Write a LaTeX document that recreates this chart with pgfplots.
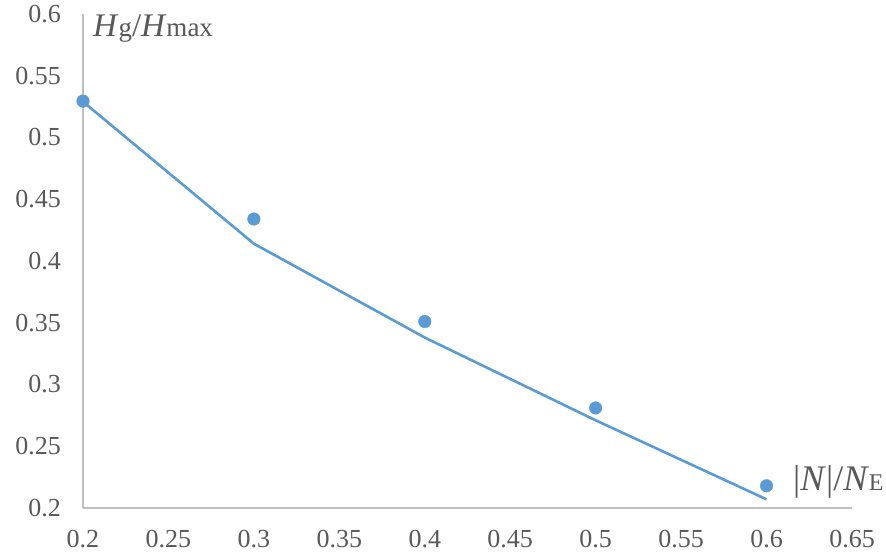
\documentclass[border=0pt]{standalone}
\usepackage{pgfplots}
\pgfplotsset{compat=1.18}
\usepackage{fontspec}
\setmainfont{Liberation Serif}
\definecolor{ticktext}{HTML}{595959}
\definecolor{axisgray}{HTML}{BFBFBF}
\definecolor{serblue}{HTML}{5B9BD5}
\begin{document}
\begin{tikzpicture}
\begin{axis}[
  scale only axis,
  width=769bp, height=494bp,
  xmin=0.2, xmax=0.65, ymin=0.2, ymax=0.6,
  axis lines=left,
  axis line style={draw=axisgray, line width=1.6bp, -},
  xtick={0.2,0.25,...,0.65},
  ytick={0.2,0.25,...,0.6},
  major tick length=0pt,
  /pgf/number format/assume math mode=true,
  /pgf/number format/.cd, fixed, precision=2, /pgfplots/.cd,
  ticklabel style={font=\fontsize{26bp}{30bp}\selectfont, text=ticktext, inner sep=0pt},
  xticklabel style={anchor=north, yshift=-22bp},
  yticklabel style={anchor=east, xshift=-22bp},
  clip=false,
]
\addplot[serblue, line width=2.6bp, no marks] coordinates {
  (0.2,0.529) (0.3,0.414) (0.4,0.338) (0.5,0.271) (0.6,0.207)
};
\addplot[only marks, mark=*, mark size=6.3bp, mark options={draw=serblue, fill=serblue}] coordinates {
  (0.2,0.5295) (0.3,0.434) (0.4,0.351) (0.5,0.281) (0.6,0.218)
};
\node[anchor=base west, inner sep=0pt, text=ticktext] at ([shift={(10bp,-23bp)}]rel axis cs:0,1)
  {\fontsize{33bp}{36bp}\selectfont\textit{H}{\fontsize{27bp}{30bp}\selectfont g}/\textit{H}{\fontsize{27bp}{30bp}\selectfont max}};
\node[anchor=base west, inner sep=0pt, text=ticktext] at ([shift={(0bp,18bp)}]rel axis cs:0.9233,0)
  {\fontsize{36bp}{40bp}\selectfont|\textit{N}|/\textit{N}{\fontsize{24bp}{28bp}\selectfont E}};
\end{axis}
\pgfresetboundingbox
\path[use as bounding box] ([shift={(-83bp,-46bp)}]current axis.south west) rectangle ([shift={(34bp,14bp)}]current axis.north east);
\end{tikzpicture}
\end{document}
